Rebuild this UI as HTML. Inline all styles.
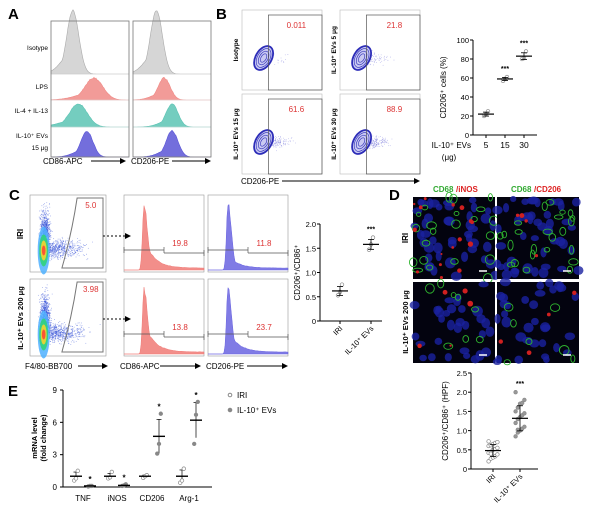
<!DOCTYPE html>
<html><head><meta charset="utf-8"><style>
body{margin:0;background:#fff}
svg{display:block;font-family:"Liberation Sans",Arial,sans-serif}
</style></head><body>
<svg id="fig" width="600" height="514" viewBox="0 0 600 514" xmlns="http://www.w3.org/2000/svg">
<defs>
<marker id="ar" markerWidth="6" markerHeight="6" refX="5" refY="3" orient="auto"><path d="M0,0 L6,3 L0,6z" fill="#000"/></marker>
</defs>
<g font-weight="bold" font-size="15">
<text x="8" y="19">A</text>
<text x="216" y="19">B</text>
<text x="9" y="200">C</text>
<text x="389" y="200">D</text>
<text x="8" y="396">E</text>
</g>
<g id="A"></g><g id="B"></g><g id="C"></g><g id="D"></g><g id="E"></g>
</svg>
<script>
// ---- chart data ----
const bDoses=["5","15","30"];
const bMean=[22,59,83];
const bPts=[[20,22,25],[57,59,61],[80,81,88]];
const bTicks=[0,20,40,60,80,100];
const cGroups=["IRI","IL-10⁺ EVs"];
const cMean=[0.62,1.58];
const cPts=[[0.53,0.6,0.75],[1.47,1.58,1.72]];
const cTicks=[0,0.5,1.0,1.5,2.0];
const dGroups=["IRI","IL-10⁺ EVs"];
const dMean=[0.48,1.32];
const dPts=[[0.2,0.27,0.3,0.33,0.38,0.42,0.45,0.5,0.52,0.55,0.6,0.62,0.65,0.68,0.7,0.72,0.4],[0.85,0.95,1.0,1.05,1.1,1.2,1.3,1.35,1.4,1.45,1.5,1.6,1.7,1.72,1.8,2.0,1.02]];
const dTicks=[0,0.5,1.0,1.5,2.0,2.5];
const eGenes=["TNF","iNOS","CD206","Arg-1"];
const eIRI=[[0.6,0.8,1.5],[0.8,0.9,1.4],[0.85,1.0,1.1],[0.4,0.6,1.7]];
const eEV=[[0.05,0.1,0.1],[0.1,0.15,0.25],[3.1,4.0,6.8],[4.0,6.7,7.9]];
const eIRIMean=[1,1,1,1];
const eEVMean=[0.1,0.15,4.7,6.2];
const eTicks=[0,3,6,9];
const eSig=[true,true,true,true];

const NS="http://www.w3.org/2000/svg";
function el(p,t,a){const e=document.createElementNS(NS,t);for(const k in a)e.setAttribute(k,a[k]);p.appendChild(e);return e;}
function tx(p,x,y,s,a){const e=el(p,'text',Object.assign({x:x,y:y,'font-size':8},a||{}));e.textContent=s;return e;}
let seed=7;function rnd(){seed=(seed*16807)%2147483647;return seed/2147483647;}
function gauss(){return (rnd()+rnd()+rnd()+rnd()-2)/1.2;}

// ---------- Panel A ----------
const A=document.getElementById('A');
const aRows=["Isotype","LPS","IL-4 + IL-13","IL-10⁺ EVs"];
const aCols=[["#cfcfcf","#f08a86","#5cc4b4","#5a55d6"]];
const rowY=[21,74,100,127,157];
const peaks=[[0.28,0.55,0.35,0.46],[0.3,0.4,0.5,0.5]];
[[51,78],[133,78]].forEach((b,ci)=>{
 for(let r=0;r<4;r++){
  const y0=rowY[r],y1=rowY[r+1],h=y1-y0;
  const c=peaks[ci][r]*b[1]+b[0];const w=(ci==0&&r>=1&&r<=2)?9:6;
  let d=`M${b[0]},${y1}`;
  for(let x=b[0];x<=b[0]+b[1];x+=1){const g=Math.exp(-((x-c)**2)/(2*w*w));const sk=x<c?Math.exp(-((x-c)**2)/(2*(w*1.8)**2))*0.35:0;d+=` L${x},${(y1-Math.max(g,sk)*(h-4)*(r==0?1.3:1)+(rnd()-0.5)*1.5*g).toFixed(1)}`;}
  d+=` L${b[0]+b[1]},${y1}Z`;
  const p=el(A,'path',{d:d,fill:aCols[0][r],'fill-opacity':0.85,stroke:aCols[0][r].replace('#cfcfcf','#aaa'),'stroke-width':0.6});
  
  el(A,'line',{x1:b[0],x2:b[0]+b[1],y1:y1,y2:y1,stroke:'#ddd','stroke-width':0.6});
 }
 el(A,'rect',{x:b[0],y:21,width:b[1],height:136,fill:'none',stroke:'#777','stroke-width':0.8});
});
aRows.forEach((s,i)=>{const t=tx(A,48,[50,89,113,138][i],s,{'text-anchor':'end','font-size':6.5});});
tx(A,48,150,"15 μg",{'text-anchor':'end','font-size':6.5});
tx(A,43,164,"CD86-APC",{'font-size':8});el(A,'line',{x1:91,x2:125,y1:161,y2:161,stroke:'#000','marker-end':'url(#ar)'});
tx(A,131,164,"CD206-PE",{'font-size':8});el(A,'line',{x1:172,x2:210,y1:161,y2:161,stroke:'#000','marker-end':'url(#ar)'});

// ---------- flow dot plot helper ----------
function contourPlot(g,x,y,w,h,spread,val,lbl){
 el(g,'rect',{x:x,y:y,width:w,height:h,fill:'#fff',stroke:'#bbb','stroke-width':0.6});
 const cx=x+w*0.27,cy=y+h*0.6;
 for(let i=0;i<spread;i++){el(g,'circle',{cx:cx+Math.abs(gauss())*w*0.3,cy:cy+gauss()*h*0.08,r:0.4,fill:'#4a4ad0','fill-opacity':0.5});}
 for(let k=0;k<4;k++){el(g,'ellipse',{cx:cx,cy:cy,rx:8-k*1.8,ry:13-k*2.8,transform:`rotate(30 ${cx} ${cy})`,fill:k==0?'#c9c9f2':'none',stroke:'#2d2db8','stroke-width':k==0?1.8:0.6});}
 el(g,'rect',{x:x+w*0.33,y:y+5,width:w*0.67,height:h-5,fill:'none',stroke:'#555','stroke-width':0.7});
 tx(g,x+w*0.68,y+18,val,{'text-anchor':'middle',fill:'#d33','font-size':8});
 const t=tx(g,x-4,y+h/2,lbl,{'text-anchor':'middle','font-size':6.5,'font-weight':'bold',transform:`rotate(-90 ${x-4} ${y+h/2})`});
}
const B=document.getElementById('B');
contourPlot(B,242,10,80,80,30,"0.011","Isotype");
contourPlot(B,340,10,80,80,120,"21.8","IL-10⁺ EVs 5 μg");
contourPlot(B,242,94,80,80,220,"61.6","IL-10⁺ EVs 15 μg");
contourPlot(B,340,94,80,80,300,"88.9","IL-10⁺ EVs 30 μg");
tx(B,241,184,"CD206-PE",{'font-size':8});el(B,'line',{x1:282,x2:419,y1:181,y2:181,stroke:'#000','marker-end':'url(#ar)'});

// ---------- scatter chart helper ----------
function dotChart(g,o){
 const ys=v=>o.y0-(v-o.tmin)/(o.tmax-o.tmin)*(o.y0-o.y1);
 el(g,'line',{x1:o.ax,x2:o.ax,y1:o.y1,y2:o.y0,stroke:'#000','stroke-width':1});
 el(g,'line',{x1:o.ax,x2:o.ax2,y1:o.y0,y2:o.y0,stroke:'#000','stroke-width':1});
 o.ticks.forEach(t=>{el(g,'line',{x1:o.ax-3,x2:o.ax,y1:ys(t),y2:ys(t),stroke:'#000'});const l=tx(g,o.ax-4,ys(t)+3,o.fmt(t),{'text-anchor':'end','font-size':7.5});});
 o.cats.forEach((c,i)=>{
  const x=o.xs[i];
  el(g,'line',{x1:x,x2:x,y1:o.y0,y2:o.y0+3,stroke:'#000'});
  const sd=Math.sqrt(o.pts[i].reduce((s,v)=>s+(v-o.mean[i])**2,0)/o.pts[i].length);
  o.pts[i].forEach((v,j)=>{const dx=o.jit?((j%5)-2)*2.2:(j-1)*2;const p=el(g,'circle',{cx:x+dx,cy:ys(v),r:1.8,fill:o.fill&&i==1?'#999':'#fff',stroke:'#888','stroke-width':0.7});});
  el(g,'line',{x1:x,x2:x,y1:ys(o.mean[i]+sd),y2:ys(o.mean[i]-sd),stroke:'#000','stroke-width':0.8});
  el(g,'line',{x1:x-3,x2:x+3,y1:ys(o.mean[i]+sd),y2:ys(o.mean[i]+sd),stroke:'#000','stroke-width':0.8});
  el(g,'line',{x1:x-3,x2:x+3,y1:ys(o.mean[i]-sd),y2:ys(o.mean[i]-sd),stroke:'#000','stroke-width':0.8});
  const m=el(g,'line',{x1:x-8,x2:x+8,y1:ys(o.mean[i]),y2:ys(o.mean[i]),stroke:'#000','stroke-width':1.2});
  if(o.stars[i]) tx(g,x,ys(Math.max(...o.pts[i]))-6,'***',{'text-anchor':'middle','font-size':7,'font-weight':'bold'});
  if(o.rot) tx(g,x+3,o.y0+8,c,{'text-anchor':'end','font-size':7.5,transform:`rotate(-45 ${x+3} ${o.y0+8})`});
  else tx(g,x,o.y0+13,c,{'text-anchor':'middle','font-size':8.5});
 });
 tx(g,o.tx,(o.y0+o.y1)/2,o.title,{'text-anchor':'middle','font-size':8,transform:`rotate(-90 ${o.tx} ${(o.y0+o.y1)/2})`});
}
dotChart(B,{ax:473,ax2:537,y0:135,y1:40,tmin:0,tmax:100,ticks:bTicks,fmt:t=>t,cats:bDoses,xs:[486,505,524],pts:bPts,mean:bMean,stars:[false,true,true],title:"CD206⁺ cells (%)",tx:446});
tx(B,471,148,"IL-10⁺ EVs",{'font-size':8,'text-anchor':'end'});tx(B,449,160,"(μg)",{'font-size':8,'text-anchor':'middle'});

// ---------- Panel C ----------
const C=document.getElementById('C');
function densityPlot(g,x,y,w,h,val){
 el(g,'rect',{x:x,y:y,width:w,height:h,fill:'#fff',stroke:'#999','stroke-width':0.6});
 for(let i=0;i<1400;i++){let px,py;if(rnd()<0.6){px=x+w*0.2+gauss()*5;py=y+h*0.5+gauss()*h*0.3;}else{px=x+w*0.25+Math.abs(gauss())*w*0.45;py=y+h*0.7+gauss()*h*0.12;}
  if(px<x+1||px>x+w-1||py<y+1||py>y+h-1)continue;el(g,'circle',{cx:px,cy:py,r:0.45,fill:'#3a55d8','fill-opacity':0.55});}
 [['#4fb0ff',6,24],['#2ed573',4.5,16],['#ffd32a',3,10],['#ff3f34',1.8,5]].forEach(c=>el(g,'ellipse',{cx:x+w*0.18,cy:y+h*0.72,rx:c[1],ry:c[2],fill:c[0],'fill-opacity':0.85}));
 el(g,'path',{d:`M${x+w*0.62},${y+3} L${x+w-3},${y+3} L${x+w-3},${y+h-4} L${x+w*0.42},${y+h-4} Q${x+w*0.55},${y+h*0.5} ${x+w*0.62},${y+3}Z`,fill:'none',stroke:'#777','stroke-width':1});
 tx(g,x+w*0.8,y+13,val,{'text-anchor':'middle',fill:'#d33','font-size':8});
}
densityPlot(C,30,195,76,77,"5.0");densityPlot(C,30,279,76,77,"3.98");
tx(C,23,234,"IRI",{'text-anchor':'middle','font-size':8,'font-weight':'bold',transform:'rotate(-90 23 234)'});
tx(C,23,318,"IL-10⁺ EVs 200 μg",{'text-anchor':'middle','font-size':7.5,'font-weight':'bold',transform:'rotate(-90 23 318)'});
function hist2(g,x,y,w,h,col,val,tail){
 el(g,'rect',{x:x,y:y,width:w,height:h,fill:'#fff',stroke:'#999','stroke-width':0.6});
 const c=x+w*0.25;let d=`M${x},${y+h-2}`;
 for(let xx=x;xx<=x+w;xx+=1){const g1=Math.exp(-((xx-c)**2)/(2*(xx<c?1.5:3.5)**2));const t=Math.exp(-(xx-c)/10)*tail*(xx>c?1:0)+(xx>c?0.03:0);d+=` L${xx},${(y+h-2-Math.max(g1,t)*(h-12)*(1+(rnd()-0.5)*0.1)).toFixed(1)}`;}
 d+=` L${x+w},${y+h-2}Z`;el(g,'path',{d:d,fill:col,'fill-opacity':0.85,stroke:col,'stroke-width':0.5});
 el(g,'path',{d:`M${x},${y+h-22} L${x+w*0.5},${y+h-22} M${x+w*0.5},${y+h-25} L${x+w*0.5},${y+h-19} M${x+w*0.5},${y+h-19} L${x+w},${y+h-19} M${x},${y+h-25} v6 M${x+w},${y+h-22} v6`,stroke:'#555','stroke-width':0.7,fill:'none'});
 tx(g,x+w*0.7,y+h-26,val,{'text-anchor':'middle',fill:'#d33','font-size':8});
}
hist2(C,124,195,80,77,'#f07a76','19.8',0.45);hist2(C,208,195,80,77,'#6a64e0','11.8',0.2);
hist2(C,124,279,80,77,'#f07a76','13.8',0.45);hist2(C,208,279,80,77,'#6a64e0','23.7',0.35);
[236,319].forEach(y=>el(C,'line',{x1:103,x2:130,y1:y,y2:y,stroke:'#000','stroke-dasharray':'2,2','marker-end':'url(#ar)'}));
tx(C,25,369,"F4/80-BB700",{'font-size':8});el(C,'line',{x1:78,x2:107,y1:366,y2:366,stroke:'#000','marker-end':'url(#ar)'});
tx(C,120,369,"CD86-APC",{'font-size':8});el(C,'line',{x1:160,x2:200,y1:366,y2:366,stroke:'#000','marker-end':'url(#ar)'});
tx(C,206,369,"CD206-PE",{'font-size':8});el(C,'line',{x1:247,x2:287,y1:366,y2:366,stroke:'#000','marker-end':'url(#ar)'});
dotChart(C,{ax:320,ax2:382,y0:321,y1:224,tmin:0,tmax:2,ticks:cTicks,fmt:t=>t==0?'0':t.toFixed(1),cats:cGroups,xs:[340,371],pts:cPts,mean:cMean,stars:[false,true],rot:true,title:"CD206⁺/CD86⁺",tx:300});

// ---------- Panel D ----------
const D=document.getElementById('D');
function micro(x,y,w,h,gr,rd,nb){
 const g=el(D,'g',{});
 el(g,'rect',{x:x,y:y,width:w,height:h,fill:'#03030f'});
 for(let i=0;i<nb;i++)el(g,'ellipse',{cx:x+rnd()*w,cy:y+rnd()*h,rx:3+rnd()*2.5,ry:3+rnd()*2.5,fill:'#1a22a0','fill-opacity':0.8});
 for(let i=0;i<gr;i++)el(g,'ellipse',{cx:x+rnd()*w,cy:y+rnd()*h,rx:2+rnd()*3,ry:2+rnd()*3,fill:'none',stroke:'#2fb52f','stroke-width':0.9});
 for(let i=0;i<rd;i++)el(g,'circle',{cx:x+rnd()*w,cy:y+rnd()*h,r:1+rnd()*2,fill:'#d02020'});
 el(g,'line',{x1:x+w-16,x2:x+w-8,y1:y+h-8,y2:y+h-8,stroke:'#fff','stroke-width':1.5});
}
micro(413,197,82,82,22,16,45);micro(497,197,82,82,24,4,45);micro(413,282,82,81,8,5,32);micro(497,282,82,81,7,4,34);
tx(D,433,192,"CD68",{'font-size':8,fill:'#3a3','font-weight':'bold'});tx(D,456,192,"/iNOS",{'font-size':8,fill:'#d22','font-weight':'bold'});
tx(D,511,192,"CD68",{'font-size':8,fill:'#3a3','font-weight':'bold'});tx(D,534,192,"/CD206",{'font-size':8,fill:'#d22','font-weight':'bold'});
tx(D,408,238,"IRI",{'text-anchor':'middle','font-size':8,'font-weight':'bold',transform:'rotate(-90 408 238)'});
tx(D,408,322,"IL-10⁺ EVs 200 μg",{'text-anchor':'middle','font-size':7.5,'font-weight':'bold',transform:'rotate(-90 408 322)'});
dotChart(D,{ax:471,ax2:538,y0:469,y1:373,tmin:0,tmax:2.5,ticks:dTicks,fmt:t=>t==0?'0':t.toFixed(1),cats:dGroups,xs:[493,520],pts:dPts,mean:dMean,stars:[false,true],rot:true,fill:true,jit:true,title:"CD206⁺/CD86⁺ (HPF)",tx:448});

// ---------- Panel E ----------
const E=document.getElementById('E');
const ey=v=>487-v/9*(487-390);
el(E,'line',{x1:63,x2:63,y1:390,y2:487,stroke:'#000'});el(E,'line',{x1:63,x2:212,y1:487,y2:487,stroke:'#000'});
eTicks.forEach(t=>{el(E,'line',{x1:60,x2:63,y1:ey(t),y2:ey(t),stroke:'#000'});tx(E,57,ey(t)+3,t,{'text-anchor':'end','font-size':8});});
const ex=[83,117,152,189];
eGenes.forEach((gname,i)=>{
 const l=tx(E,ex[i],501,gname,{'text-anchor':'middle','font-size':8});
 [[eIRI,eIRIMean,-7,'#fff'],[eEV,eEVMean,7,'#888']].forEach(s=>{
  const x=ex[i]+s[2],pts=s[0][i],m=s[1][i];
  const sd=Math.sqrt(pts.reduce((a,v)=>a+(v-m)**2,0)/pts.length);
  el(E,'line',{x1:x,x2:x,y1:ey(m+sd),y2:ey(Math.max(0,m-sd)),stroke:'#000','stroke-width':0.7});
  el(E,'line',{x1:x-2.5,x2:x+2.5,y1:ey(m+sd),y2:ey(m+sd),stroke:'#000','stroke-width':0.7});
  pts.forEach((v,j)=>{const p=el(E,'circle',{cx:x+(j-1)*1.8,cy:ey(v),r:1.8,fill:s[3],stroke:'#888','stroke-width':0.7});});
  const mb=el(E,'line',{x1:x-6,x2:x+6,y1:ey(m),y2:ey(m),stroke:'#000','stroke-width':1.4});
  if(s[2]>0&&eSig[i])tx(E,x,ey(Math.max(...pts))-4,'*',{'text-anchor':'middle','font-size':8,'font-weight':'bold'});
 });
});
tx(E,37,438,"mRNA level",{'text-anchor':'middle','font-size':7.5,'font-weight':'bold',transform:'rotate(-90 37 438)'});
tx(E,46,438,"(fold change)",{'text-anchor':'middle','font-size':7.5,'font-weight':'bold',transform:'rotate(-90 46 438)'});
const lg=el(E,'g',{});
el(lg,'circle',{cx:230,cy:395,r:1.8,fill:'#fff',stroke:'#888'});tx(lg,237,398,"IRI",{'font-size':8});
el(lg,'circle',{cx:230,cy:410,r:1.8,fill:'#888',stroke:'#888'});tx(lg,237,413,"IL-10⁺ EVs",{'font-size':8});
</script>
</body></html>
